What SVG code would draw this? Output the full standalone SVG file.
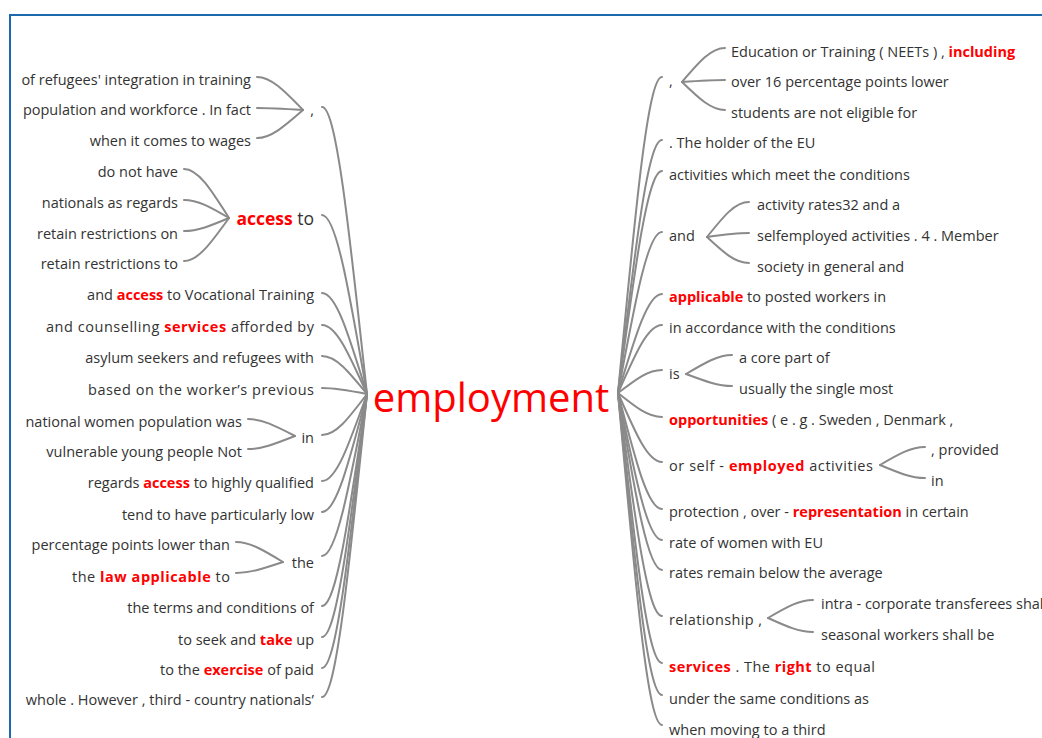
<svg xmlns="http://www.w3.org/2000/svg" width="1042" height="738" viewBox="0 0 1042 738">
<style>
text{font-family:"Open Sans","Liberation Sans",sans-serif;font-size:14.5px;fill:#333}
.e{text-anchor:end}
.r{fill:#f00;font-weight:bold}
.big{font-size:17.5px}
.root{font-size:40px;fill:#f00;text-anchor:middle}
#connectors path{fill:none;stroke:#8a8a8a;stroke-width:2;stroke-linecap:round}
</style>
<rect width="1042" height="738" fill="#fff"/>
<path d="M10 738V15H1042" fill="none" stroke="#1c6aad" stroke-width="2"/>
<g id="connectors">
<path d="M367 394C348.4 221.8 336 107 322 107"/>
<path d="M367 394C348.4 286.6 336 215 322 215"/>
<path d="M367 394C348.4 333.4 336 293 322 293"/>
<path d="M367 394C348.4 352.6 336 325 322 325"/>
<path d="M367 394C348.4 371.2 336 356 322 356"/>
<path d="M367 394C348.4 390.4 336 388 322 388"/>
<path d="M367 394C348.4 418.6 336 435 322 435"/>
<path d="M367 394C348.4 446.2 336 481 322 481"/>
<path d="M367 394C348.4 464.8 336 512 322 512"/>
<path d="M367 394C348.4 491.2 336 556 322 556"/>
<path d="M367 394C348.4 521.2 336 606 322 606"/>
<path d="M367 394C348.4 539.8 336 637 322 637"/>
<path d="M367 394C348.4 558.4 336 668 322 668"/>
<path d="M367 394C348.4 575.8 336 697 322 697"/>
<path d="M303 110C283.8 90.2 271 77 257 77"/>
<path d="M303 110C283.8 108.8 271 108 257 108"/>
<path d="M303 110C283.8 126.8 271 138 257 138"/>
<path d="M229 218C210.4 188.6 198 169 184 169"/>
<path d="M229 218C210.4 207.2 198 200 184 200"/>
<path d="M229 218C210.4 225.8 198 231 184 231"/>
<path d="M229 218C210.4 243.8 198 261 184 261"/>
<path d="M295 436C275.2 425.8 262 419 248 419"/>
<path d="M295 436C275.2 443.8 262 449 248 449"/>
<path d="M283 562C263.2 550 250 542 236 542"/>
<path d="M283 562C263.2 568.6 250 573 236 573"/>
<path d="M618 393C636 203.4 648 77 662 77"/>
<path d="M618 393C636 241.2 648 140 662 140"/>
<path d="M618 393C636 259.8 648 171 662 171"/>
<path d="M618 393C636 296.4 648 232 662 232"/>
<path d="M618 393C636 333.6 648 294 662 294"/>
<path d="M618 393C636 352.2 648 325 662 325"/>
<path d="M618 393C636 379.2 648 370 662 370"/>
<path d="M618 393C636 407.4 648 417 662 417"/>
<path d="M618 393C636 434.4 648 462 662 462"/>
<path d="M618 393C636 462.6 648 509 662 509"/>
<path d="M618 393C636 481.2 648 540 662 540"/>
<path d="M618 393C636 499.2 648 570 662 570"/>
<path d="M618 393C636 526.8 648 616 662 616"/>
<path d="M618 393C636 555 648 663 662 663"/>
<path d="M618 393C636 574.2 648 695 662 695"/>
<path d="M618 393C636 592.2 648 725 662 725"/>
<path d="M682 82C699.4 61.6 711 48 725 48"/>
<path d="M682 82C699.4 80.8 711 80 725 80"/>
<path d="M682 82C699.4 98.8 711 110 725 110"/>
<path d="M707 237C723.8 216 735 202 749 202"/>
<path d="M707 237C723.8 234.6 735 233 749 233"/>
<path d="M707 237C723.8 252.6 735 263 749 263"/>
<path d="M686 374C705.2 362.6 718 355 732 355"/>
<path d="M686 374C705.2 381.2 718 386 732 386"/>
<path d="M880 465C898.6 454.2 911 447 925 447"/>
<path d="M880 465C898.6 472.8 911 478 925 478"/>
<path d="M768 618C786.6 607.2 799 600 813 600"/>
<path d="M768 618C786.6 626.4 799 632 813 632"/>
</g>
<g id="root"><text class="root" x="491" y="412">employment</text></g>
<g id="l1"><text class="e" x="314" y="115">,</text></g>
<g id="l1a"><text class="e" x="251" y="85">of refugees' integration in training</text></g>
<g id="l1b"><text class="e" x="251" y="115">population and workforce . In fact</text></g>
<g id="l1c"><text class="e" x="251" y="146">when it comes to wages</text></g>
<g id="l2"><text class="e big" x="314" y="225"><tspan class="r">access</tspan> to</text></g>
<g id="l2a"><text class="e" x="178" y="177">do not have</text></g>
<g id="l2b"><text class="e" x="178" y="208">nationals as regards</text></g>
<g id="l2c"><text class="e" x="178" y="238.5">retain restrictions on</text></g>
<g id="l2d"><text class="e" x="178" y="268.5">retain restrictions to</text></g>
<g id="l3"><text class="e" x="314" y="300">and <tspan class="r">access</tspan> to Vocational Training</text></g>
<g id="l4"><text class="e" x="314" y="332" textLength="268" lengthAdjust="spacing">and counselling <tspan class="r">services</tspan> afforded by</text></g>
<g id="l5"><text class="e" x="314" y="363">asylum seekers and refugees with</text></g>
<g id="l6"><text class="e" x="314" y="395" textLength="226" lengthAdjust="spacing">based on the worker’s previous</text></g>
<g id="l7"><text class="e" x="314" y="443">in</text></g>
<g id="l7a"><text class="e" x="242" y="427">national women population was</text></g>
<g id="l7b"><text class="e" x="242" y="457">vulnerable young people Not</text></g>
<g id="l8"><text class="e" x="314" y="488">regards <tspan class="r">access</tspan> to highly qualified</text></g>
<g id="l9"><text class="e" x="314" y="520">tend to have particularly low</text></g>
<g id="l10"><text class="e" x="314" y="568">the</text></g>
<g id="l10a"><text class="e" x="230" y="550">percentage points lower than</text></g>
<g id="l10b"><text class="e" x="230" y="582" textLength="158" lengthAdjust="spacing">the <tspan class="r">law applicable</tspan> to</text></g>
<g id="l11"><text class="e" x="314" y="613">the terms and conditions of</text></g>
<g id="l12"><text class="e" x="314" y="645">to seek and <tspan class="r">take</tspan> up</text></g>
<g id="l13"><text class="e" x="314" y="675">to the <tspan class="r">exercise</tspan> of paid</text></g>
<g id="l14"><text class="e" x="314" y="705">whole . However , third - country nationals’</text></g>
<g id="r1"><text x="669" y="86">,</text></g>
<g id="r1a"><text x="731" y="57">Education or Training ( NEETs ) , <tspan class="r">including</tspan></text></g>
<g id="r1b"><text x="731" y="87">over 16 percentage points lower</text></g>
<g id="r1c"><text x="731" y="118">students are not eligible for</text></g>
<g id="r2"><text x="669" y="148">. The holder of the EU</text></g>
<g id="r3"><text x="669" y="179.5">activities which meet the conditions</text></g>
<g id="r4"><text x="669" y="241">and</text></g>
<g id="r4a"><text x="757" y="210">activity rates32 and a</text></g>
<g id="r4b"><text x="757" y="241">selfemployed activities . 4 . Member</text></g>
<g id="r4c"><text x="757" y="272">society in general and</text></g>
<g id="r5"><text x="669" y="302"><tspan class="r">applicable</tspan> to posted workers in</text></g>
<g id="r6"><text x="669" y="333">in accordance with the conditions</text></g>
<g id="r7"><text x="669" y="379">is</text></g>
<g id="r7a"><text x="739" y="363">a core part of</text></g>
<g id="r7b"><text x="739" y="394">usually the single most</text></g>
<g id="r8"><text x="669" y="425"><tspan class="r">opportunities</tspan> ( e . g . Sweden , Denmark ,</text></g>
<g id="r9"><text x="669" y="471" textLength="204" lengthAdjust="spacing">or self - <tspan class="r">employed</tspan> activities</text></g>
<g id="r9a"><text x="931" y="455">, provided</text></g>
<g id="r9b"><text x="931" y="486">in</text></g>
<g id="r10"><text x="669" y="517">protection , over - <tspan class="r">representation</tspan> in certain</text></g>
<g id="r11"><text x="669" y="548">rate of women with EU</text></g>
<g id="r12"><text x="669" y="578">rates remain below the average</text></g>
<g id="r13"><text x="669" y="625" textLength="93" lengthAdjust="spacing">relationship ,</text></g>
<g id="r13a"><text x="821" y="609">intra - corporate transferees shal</text></g>
<g id="r13b"><text x="821" y="640">seasonal workers shall be</text></g>
<g id="r14"><text x="669" y="672" textLength="206" lengthAdjust="spacing"><tspan class="r">services</tspan> . The <tspan class="r">right</tspan> to equal</text></g>
<g id="r15"><text x="669" y="704">under the same conditions as</text></g>
<g id="r16"><text x="669" y="735">when moving to a third</text></g>
</svg>
